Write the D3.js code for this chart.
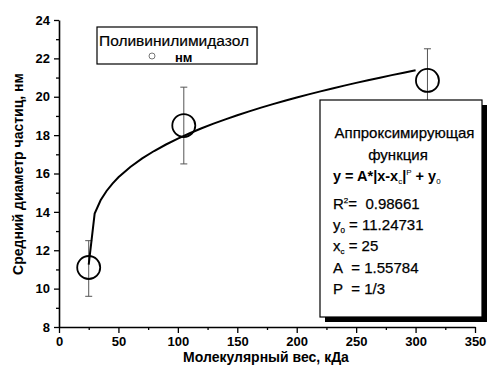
<!DOCTYPE html>
<html><head><meta charset="utf-8">
<script src="https://cdn.jsdelivr.net/npm/d3@7"></script>
<style>body{margin:0;background:#fff}svg{display:block;font-family:"Liberation Sans",Arial,sans-serif}</style>
</head><body><svg id="c" width="500" height="380"></svg>
<script>
const xVals = [25, 105, 310];
const yVals = [11.1, 18.5, 20.85];
const errLow = [9.6, 16.5, 19.2];
const errHigh = [12.5, 20.5, 22.5];
const xTicks = [0, 50, 100, 150, 200, 250, 300, 350];
const yTicks = [8, 10, 12, 14, 16, 18, 20, 22, 24];
const fitA = 1.55784, fitXc = 25, fitY0 = 11.24731, fitP = 1/3;
const fitX = [25,30,35,40,45,50,60,70,80,90,100,110,120,130,140,150,160,170,180,190,200,210,220,230,240,250,260,270,280,290,300];

const svg = d3.select("#c");
const x = d3.scaleLinear().domain([0, 350]).range([59, 475]);
const y = d3.scaleLinear().domain([8, 24]).range([327, 20]);

// axes
svg.append("g").attr("transform","translate(0,327)")
  .call(d3.axisBottom(x).tickValues(xTicks).tickSize(6).tickPadding(4).tickSizeOuter(0));
const xMin = svg.append("g").attr("transform","translate(0,327)")
  .call(d3.axisBottom(x).tickValues(d3.range(25,350,50)).tickSize(3).tickFormat("").tickSizeOuter(0));
xMin.select(".domain").remove();
svg.append("g").attr("transform","translate(59,0)")
  .call(d3.axisLeft(y).tickValues(yTicks).tickSize(5).tickPadding(4).tickSizeOuter(0));
const yMin = svg.append("g").attr("transform","translate(59,0)")
  .call(d3.axisLeft(y).tickValues(d3.range(9,24,2)).tickSize(3).tickFormat("").tickSizeOuter(0));
yMin.select(".domain").remove();
svg.selectAll(".domain").attr("stroke","#000").attr("stroke-width",1.6);
svg.selectAll(".tick line").attr("stroke","#000").attr("stroke-width",1.3);
svg.selectAll(".tick text").attr("font-size",13).attr("font-weight","bold").attr("fill","#000")
  .attr("font-family","'Liberation Sans',Arial,sans-serif");

// axis labels
svg.append("text").attr("x",266).attr("y",362).attr("text-anchor","middle")
  .attr("font-size",14).attr("font-weight","bold").text("Молекулярный вес, кДа");
svg.append("text").attr("transform","translate(23,174) rotate(-90)").attr("text-anchor","middle")
  .attr("font-size",14).attr("font-weight","bold").text("Средний диаметр частиц, нм");

// error bars
const eb = svg.append("g").attr("stroke","#555").attr("stroke-width",1);
xVals.forEach((d,i)=>{
  eb.append("line").attr("x1",x(d)).attr("x2",x(d)).attr("y1",y(errLow[i])).attr("y2",y(errHigh[i]));
  [errLow[i],errHigh[i]].forEach(v=>eb.append("line").attr("x1",x(d)-3.5).attr("x2",x(d)+3.5).attr("y1",y(v)).attr("y2",y(v)));
});

// fit curve
const line = d3.line().x(d=>x(d)).y(d=>y(fitA*Math.pow(Math.abs(d-fitXc),fitP)+fitY0));
svg.append("path").datum(fitX).attr("d",line).attr("fill","none").attr("stroke","#000").attr("stroke-width",2);

// markers
svg.append("g").selectAll("circle").data(xVals).join("circle")
  .attr("cx",d=>x(d)).attr("cy",(d,i)=>y(yVals[i])).attr("r",11.5)
  .attr("fill","none").attr("stroke","#000").attr("stroke-width",1.8);

// legend
svg.append("rect").attr("x",97).attr("y",27).attr("width",160).attr("height",37)
  .attr("fill","#fff").attr("stroke","#000").attr("stroke-width",1.2);
svg.append("text").attr("x",99).attr("y",46).attr("font-size",15.5)
  .attr("stroke","#000").attr("stroke-width",0.2).text("Поливинилимидазол");
svg.append("circle").attr("cx",152).attr("cy",56).attr("r",3).attr("fill","none").attr("stroke","#555").attr("stroke-width",0.8);
svg.append("text").attr("x",175).attr("y",62).attr("font-size",13).attr("font-weight","bold").text("нм");

// fit box
svg.append("rect").attr("x",325).attr("y",105).attr("width",162).attr("height",217).attr("fill","#000");
svg.append("rect").attr("x",320).attr("y",100).attr("width",162).attr("height",217)
  .attr("fill","#fff").attr("stroke","#000").attr("stroke-width",1.2);
const ft = svg.append("g").attr("font-size",15).attr("fill","#000").attr("stroke","#000").attr("stroke-width",0.25);
ft.append("text").attr("x",404.5).attr("y",138).attr("text-anchor","middle").text("Аппроксимирующая");
ft.append("text").attr("x",398).attr("y",160).attr("text-anchor","middle").text("функция");
const f1 = ft.append("text").attr("x",333).attr("y",181).attr("font-weight","bold").attr("font-size",14.5).attr("stroke-width",0);
f1.append("tspan").text("y = A*|x-x");
f1.append("tspan").attr("font-size",8).attr("dy",3).attr("font-weight","normal").text("c");
f1.append("tspan").attr("dy",-3).text("|");
f1.append("tspan").attr("font-size",8).attr("dy",-6).attr("font-weight","normal").text("P");
f1.append("tspan").attr("dy",6).text(" + y");
f1.append("tspan").attr("font-size",8).attr("dy",3).attr("font-weight","normal").text("0");
const r2 = ft.append("text").attr("x",333).attr("y",209);
r2.append("tspan").text("R");
r2.append("tspan").attr("font-size",8).attr("dy",-6).text("2");
r2.append("tspan").attr("dy",6).text("=\u00a0\u00a00.98661");
const y0t = ft.append("text").attr("x",333).attr("y",230);
y0t.append("tspan").text("y");
y0t.append("tspan").attr("font-size",8).attr("dy",3).text("0");
y0t.append("tspan").attr("dy",-3).text(" = 11.24731");
const xct = ft.append("text").attr("x",333).attr("y",251);
xct.append("tspan").text("x");
xct.append("tspan").attr("font-size",8).attr("dy",3).text("c");
xct.append("tspan").attr("dy",-3).text(" = 25");
ft.append("text").attr("x",333).attr("y",273).text("A\u00a0\u00a0= 1.55784");
ft.append("text").attr("x",333).attr("y",294).text("P\u00a0\u00a0= 1/3");
</script></body></html>
